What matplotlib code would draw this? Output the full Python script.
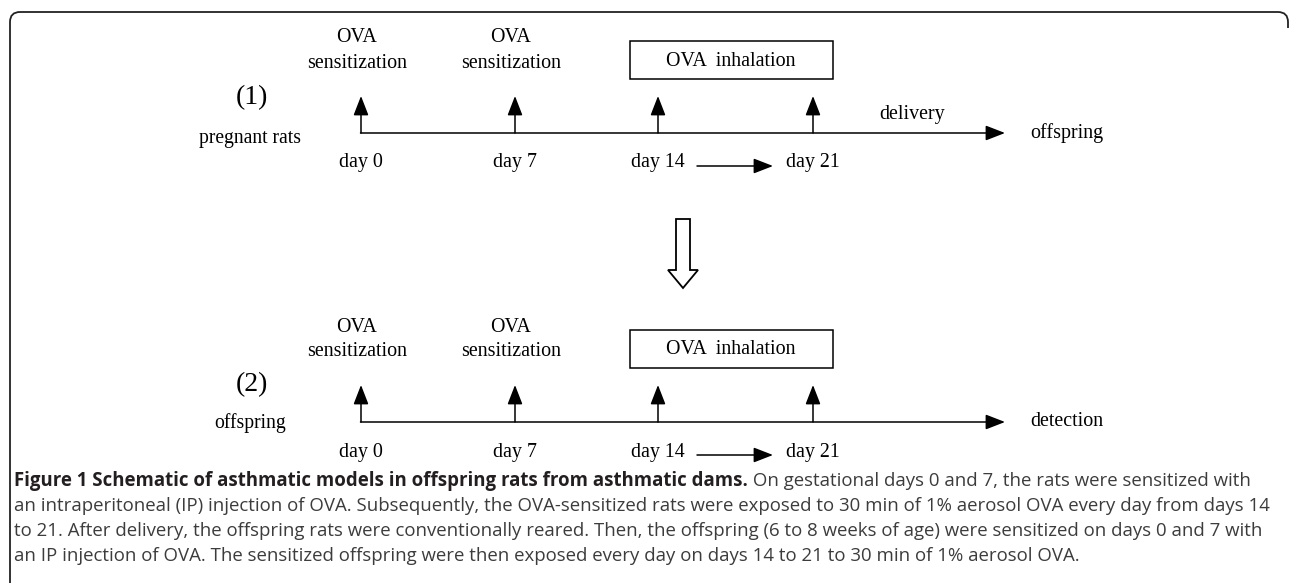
import matplotlib.pyplot as plt
from matplotlib.path import Path
from matplotlib.patches import PathPatch, Rectangle, Polygon

# timeline content
days = [0, 7, 14, 21]
day_labels = ['day 0', 'day 7', 'day 14', 'day 21']
sensitization_days = [0, 7]
inhalation_days = [14, 21]
panel_ids = ['(1)', '(2)']
subjects = ['pregnant rats', 'offspring']
outcomes = ['offspring', 'detection']
transitions = ['delivery', '']

caption_bold = 'Figure 1 Schematic of asthmatic models in offspring rats from asthmatic dams.'
caption_lines = [
    ' On gestational days 0 and 7, the rats were sensitized with',
    'an intraperitoneal (IP) injection of OVA. Subsequently, the OVA-sensitized rats were exposed to 30 min of 1% aerosol OVA every day from days 14',
    'to 21. After delivery, the offspring rats were conventionally reared. Then, the offspring (6 to 8 weeks of age) were sensitized on days 0 and 7 with',
    'an IP injection of OVA. The sensitized offspring were then exposed every day on days 14 to 21 to 30 min of 1% aerosol OVA.',
]

# layout (pixel coords)
W, H = 1290, 583
day_x = {0: 361, 7: 515, 14: 658, 21: 813}
panel_y = [133, 422]
line_end = 1005
serif = 'Liberation Serif'
fs = 14.4

fig = plt.figure(figsize=(W / 100, H / 100), dpi=100)
ax = fig.add_axes([0, 0, 1, 1])
ax.set_xlim(0, W)
ax.set_ylim(H, 0)
ax.axis('off')

# frame: rounded top corners, open at bottom
r = 10
verts = [(1288, 28), (1288, 12 + r), (1288, 12), (1288 - r, 12), (10 + r, 12),
         (10, 12), (10, 12 + r), (10, H + 5)]
codes = [Path.MOVETO, Path.LINETO, Path.CURVE3, Path.CURVE3, Path.LINETO,
         Path.CURVE3, Path.CURVE3, Path.LINETO]
ax.add_patch(PathPatch(Path(verts, codes), fill=False, lw=1.3, ec='#222222'))

lw = 1.1
arrow = dict(arrowstyle='-|>,head_length=0.85,head_width=0.33', lw=lw, color='black',
             shrinkA=0, shrinkB=0, mutation_scale=14)
for i, y in enumerate(panel_y):
    dy = y - panel_y[0]
    ax.text(252, 98 + dy - (2 if i else 0), panel_ids[i], fontsize=20, family=serif, ha='center', va='center')
    ax.text(250, 138 + dy - (4 if i else 0), subjects[i], fontsize=fs - 0.3, family=serif, ha='center', va='center')

    # main timeline
    ax.annotate('', xy=(line_end, y), xytext=(day_x[0] - 0.5, y), arrowprops=arrow)
    ax.text(1030, y, outcomes[i], fontsize=fs, family=serif, ha='left', va='center')
    if transitions[i]:
        ax.text(912, y - 18, transitions[i], fontsize=fs, family=serif, ha='center', va='center')

    # event arrows
    for d in days:
        ax.annotate('', xy=(day_x[d], y - 37), xytext=(day_x[d], y), arrowprops=arrow)
    for d, lab in zip(days, day_labels):
        ax.text(day_x[d], y + 30, lab, fontsize=fs, family=serif, ha='center', va='center')

    for d in sensitization_days:
        ax.text(day_x[d] - 4, y - 95, 'OVA', fontsize=fs, family=serif, ha='center', va='center')
        ax.text(day_x[d] - 4, y - 70, 'sensitization', fontsize=fs, family=serif, ha='center', va='center')

    # inhalation box
    ax.add_patch(Rectangle((630, y - 92), 203, 38, fill=False, lw=lw, ec='black'))
    ax.text(731, y - 72, 'OVA  inhalation', fontsize=fs, family=serif, ha='center', va='center')

    # day 14 -> day 21 arrow
    ax.annotate('', xy=(773, y + 33), xytext=(697, y + 33), arrowprops=arrow)

# hollow down arrow between panels
ax.add_patch(Polygon([(676, 219), (690, 219), (690, 270), (698, 270), (683, 288),
                      (668, 270), (676, 270)], closed=True, fill=False, lw=1.3, ec='black'))

# caption
fig.canvas.draw()
rend = fig.canvas.get_renderer()
cap_size = 13.4
cap_y0 = 481
t = ax.text(14, cap_y0, caption_bold, fontsize=cap_size, family='Open Sans', weight='bold',
            color='#231f20', ha='left', va='center')
bb = t.get_window_extent(rend)
x_end = ax.transData.inverted().transform((bb.x1, 0))[0]
ax.text(x_end, cap_y0, caption_lines[0], fontsize=cap_size, family='Open Sans', color='#3c3c3c',
        ha='left', va='center')
for k, line in enumerate(caption_lines[1:]):
    ax.text(14, cap_y0 + 25 * (k + 1), line, fontsize=cap_size, family='Open Sans', color='#3c3c3c',
            ha='left', va='center')

fig.savefig('out.png', dpi=100)
